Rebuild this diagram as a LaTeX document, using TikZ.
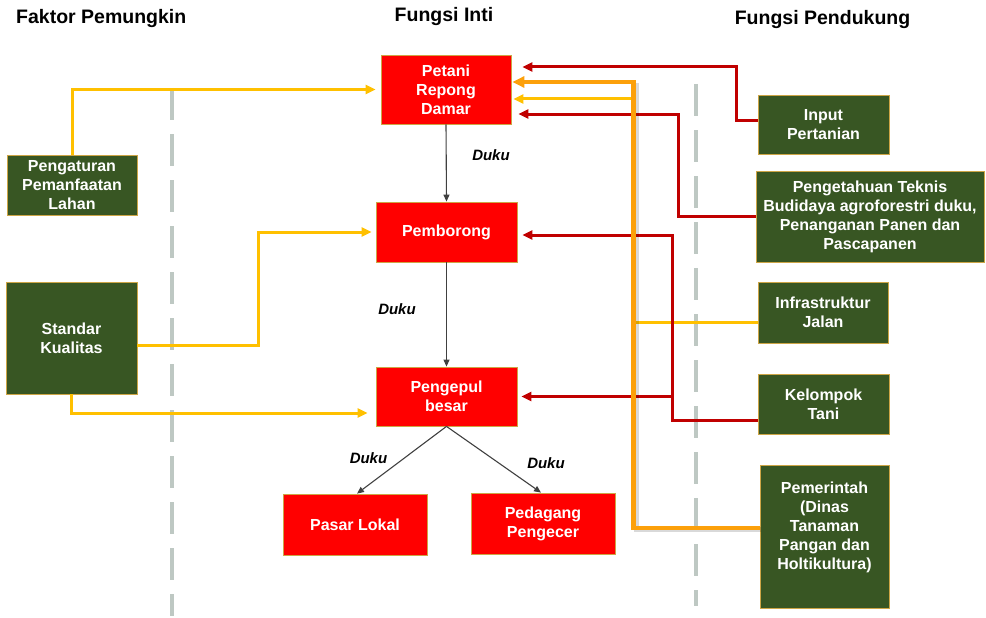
\documentclass[tikz,border=0pt]{standalone}
\usepackage{fontspec}
\setmainfont{Liberation Sans}
\usetikzlibrary{arrows.meta}
\definecolor{boxred}{RGB}{255,0,0}
\definecolor{boxgreen}{RGB}{56,86,35}
\definecolor{boxedge}{RGB}{205,165,70}
\definecolor{lineyellow}{RGB}{255,192,0}
\definecolor{lineorange}{RGB}{252,160,10}
\definecolor{linered}{RGB}{192,0,0}
\definecolor{dashgray}{RGB}{190,200,195}
\newcommand\myboxfont{\fontsize{16}{19}\selectfont\bfseries}
\newcommand\mytitlefont{\fontsize{19.5}{22}\selectfont\bfseries}
\newcommand\mydukufont{\fontsize{15}{17}\selectfont\bfseries\itshape}
\begin{document}
\begin{tikzpicture}[x=1pt,y=-1pt,
 box/.style={draw=boxedge,line width=0.8pt,align=center,text=white,font=\myboxfont,inner sep=2pt},
 redbox/.style={box,fill=boxred},
 greenbox/.style={box,fill=boxgreen},
 titletext/.style={font=\mytitlefont,inner sep=0pt},
 duku/.style={font=\mydukufont,inner sep=0pt},
 flow/.style={draw=black!75,line width=1.1pt,-{Triangle[length=7pt,width=6pt]}},
 yel/.style={draw=lineyellow,line width=3pt,-{Triangle[length=10pt,width=9pt]}},
 org/.style={draw=lineorange,line width=4.6pt,-{Triangle[length=12pt,width=11pt]}},
 orgshadow/.style={draw=black,opacity=0.15,line width=5pt},
 redl/.style={draw=linered,line width=3pt,-{Triangle[length=10pt,width=9pt]}},
 sep/.style={draw=dashgray,line width=4pt,dash pattern=on 32pt off 14pt}
]
\useasboundingbox (0,0) rectangle (986,618);

% separators
\draw[sep] (172,88) -- (172,616);
\draw[sep] (696,84) -- (696,606);

% titles
\node[titletext,anchor=west] (t1) at (16,19) {Faktor Pemungkin};
\node[titletext] (t2) at (444,17) {Fungsi Inti};
\node[titletext] (t3) at (822.5,20) {Fungsi Pendukung};

% core boxes
\node[redbox,minimum width=130pt,minimum height=69pt] (petani) at (446,89.5) {Petani\\Repong\\Damar};
\node[redbox,minimum width=141pt,minimum height=60pt] (pemborong) at (446.5,232) {Pemborong};
\node[redbox,minimum width=141pt,minimum height=59pt] (pengepul) at (446.5,396.5) {Pengepul\\besar};
\node[redbox,minimum width=144pt,minimum height=61pt] (pasar) at (355,524.5) {Pasar Lokal};
\node[redbox,minimum width=144pt,minimum height=61pt] (pedagang) at (543,523.5) {Pedagang\\Pengecer};

% enabling factors
\node[greenbox,minimum width=130pt,minimum height=60pt] (pengaturan) at (72,185) {Pengaturan\\Pemanfaatan\\Lahan};
\node[greenbox,minimum width=131pt,minimum height=112pt] (standar) at (71.5,338) {Standar\\Kualitas};

% supporting functions
\node[greenbox,minimum width=131pt,minimum height=59pt] (input) at (823.5,124.5) {Input\\Pertanian};
\node[greenbox,minimum width=228pt,minimum height=91pt] (pengetahuan) at (870,216.5) {Pengetahuan Teknis\\Budidaya agroforestri duku,\\Penanganan Panen dan\\Pascapanen};
\node[greenbox,minimum width=130pt,minimum height=61pt] (infra) at (823,312.5) {Infrastruktur\\Jalan};
\node[greenbox,minimum width=131pt,minimum height=60pt] (kelompok) at (823.5,404) {Kelompok\\Tani};
\node[greenbox,minimum width=129pt,minimum height=143pt] (pemerintah) at (824.5,536.5) {Pemerintah\\(Dinas\\Tanaman\\Pangan dan\\Holtikultura)\\[3pt]\mbox{}};

% product flow
\draw[flow] (petani.south) -- (pemborong.north);
\draw[flow] (pemborong.south) -- (pengepul.north);
\draw[flow] (pengepul.south) -- ([xshift=2pt]pasar.north);
\draw[flow] (pengepul.south) -- ([xshift=-2pt]pedagang.north);
\node[duku] (d1) at (491,155) {Duku};
\node[duku] (d2) at (397,309) {Duku};
\node[duku] (d3) at (368.5,458) {Duku};
\node[duku] (d4) at (546,463.5) {Duku};

% enabling factor connectors
\draw[yel] (pengaturan.north) |- ([xshift=-5pt]petani.west);
\draw[yel] ([yshift=-7pt]standar.east) -- ++(121,0) |- ([xshift=-4pt]pemborong.west);
\draw[yel] (standar.south) |- ([xshift=-8pt,yshift=-16.5pt]pengepul.west);

% supporting connectors
\draw[yel] ([yshift=-9.5pt]infra.west) -- ++(-124,0) |- ([xshift=2pt,yshift=-9.5pt]petani.east);
\draw[redl] ([yshift=4.5pt]input.west) -- ++(-21,0) |- ([xshift=11pt,yshift=22.5pt]petani.east);
\draw[redl] (pengetahuan.west) -- ++(-77,0) |- ([xshift=7pt,yshift=-24.5pt]petani.east);
\draw[redl] ([yshift=-16pt]kelompok.west) -- ++(-85,0) coordinate (kbend) |- ([xshift=5pt,yshift=-3pt]pemborong.east);
\draw[redl] (kbend |- pengepul.east) -- ([xshift=4pt]pengepul.east);
\draw[orgshadow] ([xshift=1.5pt,yshift=-1.5pt]pemerintah.west) ++(0,-8.5) -- ++(-124.5,0) -- ++(0,-446);
\draw[org] ([yshift=8.5pt]pemerintah.west) -- ++(-126,0) |- ([xshift=1pt,yshift=7.5pt]petani.east);
\end{tikzpicture}
\end{document}
